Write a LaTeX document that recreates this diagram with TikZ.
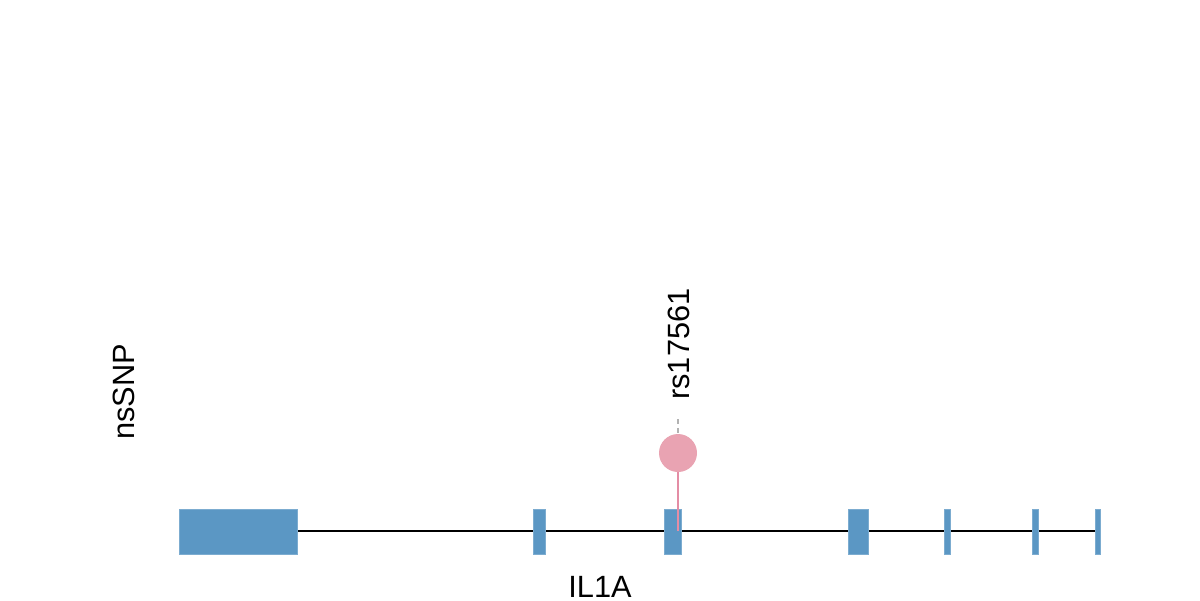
\documentclass[tikz,border=0pt]{standalone}
\usepackage{fontspec}
\setmainfont{Liberation Sans}
\usepackage{tikz}
\usetikzlibrary{positioning,calc}

\definecolor{exonblue}{HTML}{5B97C4}
\definecolor{snppink}{HTML}{E9A3B2}
\definecolor{stempink}{HTML}{E48DA5}

\begin{document}
\begin{tikzpicture}[x=0.02cm,y=-0.02cm,
    exon/.style={fill=exonblue,draw=exonblue!80!white,line width=0.4pt},
    lbl/.style={inner sep=0pt,font=\fontsize{17.5}{20}\selectfont}]
      \useasboundingbox (0,0) rectangle (1200,600);
      % intron backbone
      \draw[line width=1.1pt] (297,531) -- (1099,531);
      % exons
      \foreach \a/\b in {179/297,533/545,664/681,848/868,944/950,1032/1038,1095/1100}
        \fill[exon] (\a,509) rectangle (\b,554);
      % snp stem and head
      \draw[stempink,line width=0.9pt] (678,531) -- (678,470);
      \fill[snppink] (678,453) circle (19);
      \draw[gray!60,dashed,dash pattern=on 3pt off 2pt,line width=0.7pt] (678,419) -- (678,435);
      % Labels
      \node[lbl,rotate=90,anchor=west] (snp) at (679,400) {rs17561};
      \node[lbl,rotate=90] (track) at (124,392) {nsSNP};
      \node[lbl,anchor=base] (gene) at (600,597) {IL1A};
    \end{tikzpicture}
\end{document}
